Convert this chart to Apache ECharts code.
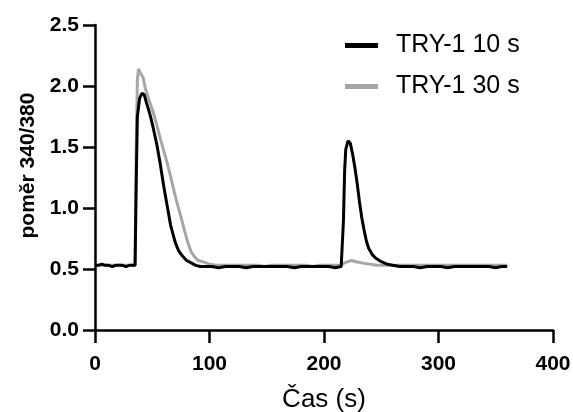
<!DOCTYPE html>
<html>
<head>
<meta charset="utf-8">
<script src="https://cdn.jsdelivr.net/npm/echarts@6/dist/echarts.min.js"></script>
<style>
  html, body { margin: 0; padding: 0; background: #fff; }
  #chart { width: 573px; height: 412px; }
</style>
</head>
<body>
<div id="chart"></div>
<script>
// data (time in s, ratio 340/380)
const seriesNames = ['TRY-1 10 s', 'TRY-1 30 s'];
const colors = ['#000000', '#a6a6a6'];

const try10 = [
  [0, 0.53], [3, 0.53], [6, 0.54], [9, 0.53], [12, 0.53], [15, 0.52], [18, 0.53], [21, 0.53],
  [24, 0.53], [27, 0.52], [30, 0.53], [33, 0.53], [35, 0.53], [36, 1.2], [37, 1.75], [39, 1.9],
  [41, 1.94], [43, 1.93], [45, 1.86], [47, 1.8], [49, 1.73], [51, 1.65], [54, 1.52], [57, 1.36],
  [60, 1.18], [63, 1.02], [66, 0.86], [70, 0.72], [73, 0.65], [76, 0.61], [80, 0.57], [84, 0.55],
  [88, 0.53], [92, 0.52], [96, 0.52], [102, 0.52], [108, 0.51], [114, 0.52], [120, 0.52],
  [126, 0.52], [132, 0.51], [138, 0.52], [144, 0.52], [150, 0.52], [156, 0.52], [162, 0.52],
  [168, 0.52], [174, 0.51], [180, 0.52], [186, 0.52], [192, 0.52], [198, 0.52], [204, 0.52],
  [210, 0.51], [215, 0.52], [217, 0.9], [218, 1.3], [219, 1.48], [221, 1.55], [223, 1.53],
  [225, 1.44], [227, 1.33], [229, 1.2], [231, 1.05], [233, 0.92], [235, 0.82], [237, 0.73],
  [239, 0.67], [242, 0.62], [245, 0.59], [250, 0.56], [255, 0.54], [260, 0.53], [266, 0.52],
  [272, 0.52], [278, 0.52], [284, 0.51], [290, 0.52], [296, 0.52], [302, 0.52], [308, 0.51],
  [314, 0.52], [320, 0.52], [326, 0.52], [332, 0.52], [338, 0.52], [344, 0.52], [350, 0.51],
  [355, 0.52], [360, 0.52]
];

const try30 = [
  [0, 0.53], [4, 0.53], [8, 0.53], [12, 0.53], [16, 0.53], [20, 0.53], [24, 0.53], [28, 0.53],
  [32, 0.53], [35, 0.53], [36, 1.5], [37, 2.05], [38, 2.14], [40, 2.1], [42, 2.07], [44, 1.98],
  [46, 1.92], [48, 1.86], [51, 1.78], [54, 1.68], [57, 1.57], [60, 1.47], [63, 1.37], [66, 1.26],
  [69, 1.14], [72, 1.03], [75, 0.93], [78, 0.82], [81, 0.72], [84, 0.64], [87, 0.6], [90, 0.57],
  [94, 0.56], [100, 0.54], [106, 0.53], [112, 0.53], [118, 0.53], [124, 0.53], [130, 0.53],
  [136, 0.53], [142, 0.53], [148, 0.52], [154, 0.53], [160, 0.53], [166, 0.53], [172, 0.53],
  [178, 0.53], [184, 0.53], [190, 0.52], [196, 0.53], [202, 0.53], [208, 0.53], [214, 0.53],
  [218, 0.55], [221, 0.56], [224, 0.57], [228, 0.56], [233, 0.55], [240, 0.54], [246, 0.53],
  [252, 0.53], [258, 0.53], [264, 0.53], [270, 0.53], [276, 0.53], [282, 0.53], [288, 0.53],
  [294, 0.53], [300, 0.53], [306, 0.53], [312, 0.53], [318, 0.53], [324, 0.53], [330, 0.53],
  [336, 0.53], [342, 0.53], [348, 0.53], [354, 0.53], [360, 0.53]
];

const font = 'Liberation Sans, Arial, sans-serif';

const chart = echarts.init(document.getElementById('chart'));
chart.setOption({
  animation: false,
  grid: { left: 95, right: 20, top: 25, bottom: 82, outerBoundsMode: 'none' },
  legend: {
    orient: 'vertical',
    left: 340,
    top: 28,
    icon: 'rect',
    itemWidth: 33,
    itemHeight: 5,
    itemGap: 16,
    data: seriesNames,
    textStyle: { fontFamily: font, fontSize: 25, color: '#000', padding: [0, 0, 0, 13] }
  },
  xAxis: {
    type: 'value',
    min: 0, max: 400, interval: 100,
    name: 'Čas (s)',
    nameLocation: 'middle',
    nameGap: 57,
    nameTextStyle: { fontFamily: font, fontSize: 26, color: '#000' },
    axisLine: { lineStyle: { color: '#000', width: 2.5 } },
    axisTick: { inside: false, length: 13, lineStyle: { color: '#000', width: 2.5 } },
    axisLabel: { fontFamily: font, fontSize: 21, fontWeight: 'bold', color: '#000', margin: 24 },
    splitLine: { show: false }
  },
  yAxis: {
    type: 'value',
    min: 0, max: 2.5, interval: 0.5,
    name: 'poměr 340/380',
    nameLocation: 'middle',
    nameGap: 55,
    nameTextStyle: {
      fontFamily: font, fontSize: 21, fontWeight: 'bold', color: '#000',
      padding: [0, 0, 0, 24]
    },
    axisLine: { show: true, lineStyle: { color: '#000', width: 2.5 } },
    axisTick: { show: true, inside: false, length: 12, lineStyle: { color: '#000', width: 2.5 } },
    axisLabel: {
      fontFamily: font, fontSize: 21, fontWeight: 'bold', color: '#000', margin: 16,
      formatter: v => v.toFixed(1)
    },
    splitLine: { show: false }
  },
  series: [
    {
      name: seriesNames[1],
      type: 'line',
      data: try30,
      symbol: 'none',
      color: colors[1],
      lineStyle: { color: colors[1], width: 3 },
      z: 2
    },
    {
      name: seriesNames[0],
      type: 'line',
      data: try10,
      symbol: 'none',
      color: colors[0],
      lineStyle: { color: colors[0], width: 3 },
      z: 3
    }
  ]
});
</script>
</body>
</html>
